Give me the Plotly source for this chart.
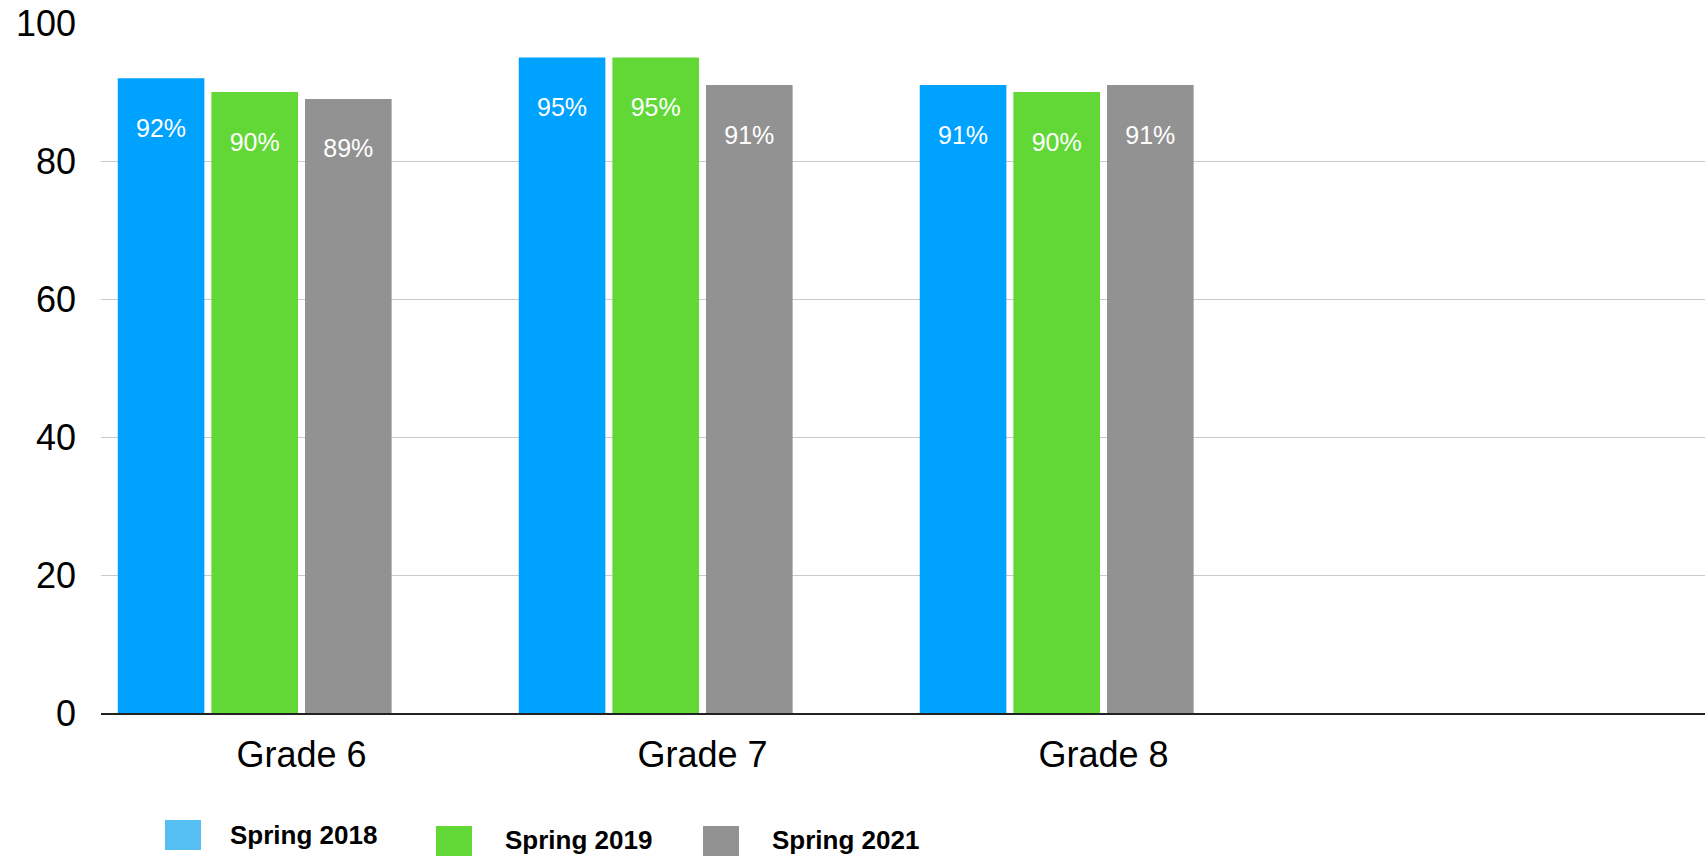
import plotly.graph_objects as go

# ---- data ----
categories = ["Grade 6", "Grade 7", "Grade 8"]
series_names = ["Spring 2018", "Spring 2019", "Spring 2021"]
spring_2018 = [92, 95, 91]
spring_2019 = [90, 95, 90]
spring_2021 = [89, 91, 91]
y_ticks = [0, 20, 40, 60, 80, 100]

# ---- style ----
bar_colors = ["#00A2FF", "#61D836", "#929292"]
legend_colors = ["#56BFF2", "#61D836", "#929292"]
FONT = "Liberation Sans, Arial, Helvetica, sans-serif"

W_PAGE, H_PAGE = 1708, 858
M_L, M_R, M_T, M_B = 101, 3, 23, 145
PW = W_PAGE - M_L - M_R
PH = H_PAGE - M_T - M_B

def px(x):
    return (x - M_L) / PW

def py(y):
    return (M_T + PH - y) / PH

fig = go.Figure()
for name, vals, col in zip(series_names, [spring_2018, spring_2019, spring_2021], bar_colors):
    fig.add_trace(go.Bar(
        x=categories, y=vals, name=name,
        marker=dict(color=col, line=dict(width=0)),
        text=[f"{v}%" for v in vals],
        texttemplate="\u00a0<br>%{text}",
        textposition="inside", insidetextanchor="end",
        textfont=dict(color="white", size=25, family=FONT),
        textangle=0,
        showlegend=False,
    ))
# empty fourth series slot (as in the source chart layout)
fig.add_trace(go.Bar(x=categories, y=[None] * len(categories), name="",
                     showlegend=False, hoverinfo="skip"))

# ---- custom legend (large swatches) ----
sw_left = [165, 436, 703]
sw_top = [820, 826, 826]
sw_w, sw_h = 36, 30
txt_left = [228, 503, 770]
txt_mid = [835, 840, 840]
for i, name in enumerate(series_names):
    fig.add_shape(type="rect", xref="paper", yref="paper",
                  x0=px(sw_left[i]), x1=px(sw_left[i] + sw_w),
                  y0=py(sw_top[i] + sw_h), y1=py(sw_top[i]),
                  fillcolor=legend_colors[i], line=dict(width=0))
    fig.add_annotation(xref="paper", yref="paper", x=px(txt_left[i]), y=py(txt_mid[i]),
                       xanchor="left", yanchor="middle", showarrow=False,
                       text=f"<b>{name}</b>", font=dict(size=26, color="black", family=FONT))

fig.update_layout(
    width=W_PAGE, height=H_PAGE,
    margin=dict(l=M_L, r=M_R, t=M_T, b=M_B, autoexpand=False),
    paper_bgcolor="white", plot_bgcolor="white",
    barmode="group", bargap=0.066, bargroupgap=0.075,
    font=dict(family=FONT, color="black"),
    showlegend=False,
)
fig.update_xaxes(
    type="category", categoryorder="array", categoryarray=categories,
    range=[-0.5, 3.5],
    showgrid=False, zeroline=False,
    showline=True, linecolor="#222222", linewidth=2,
    ticks="", tickfont=dict(size=36, family=FONT, color="black"),
    ticklabelstandoff=9,
)
fig.update_yaxes(
    range=[0, 100], tickvals=y_ticks,
    showgrid=True, gridcolor="#CACACA", gridwidth=1,
    zeroline=False, showline=False,
    ticks="", tickfont=dict(size=36, family=FONT, color="black"),
    ticklabelstandoff=24,
)

fig.write_html(
    "out.html",
    config={"displayModeBar": False},
    post_script="document.body.style.margin='0';document.body.style.overflow='hidden';",
)
